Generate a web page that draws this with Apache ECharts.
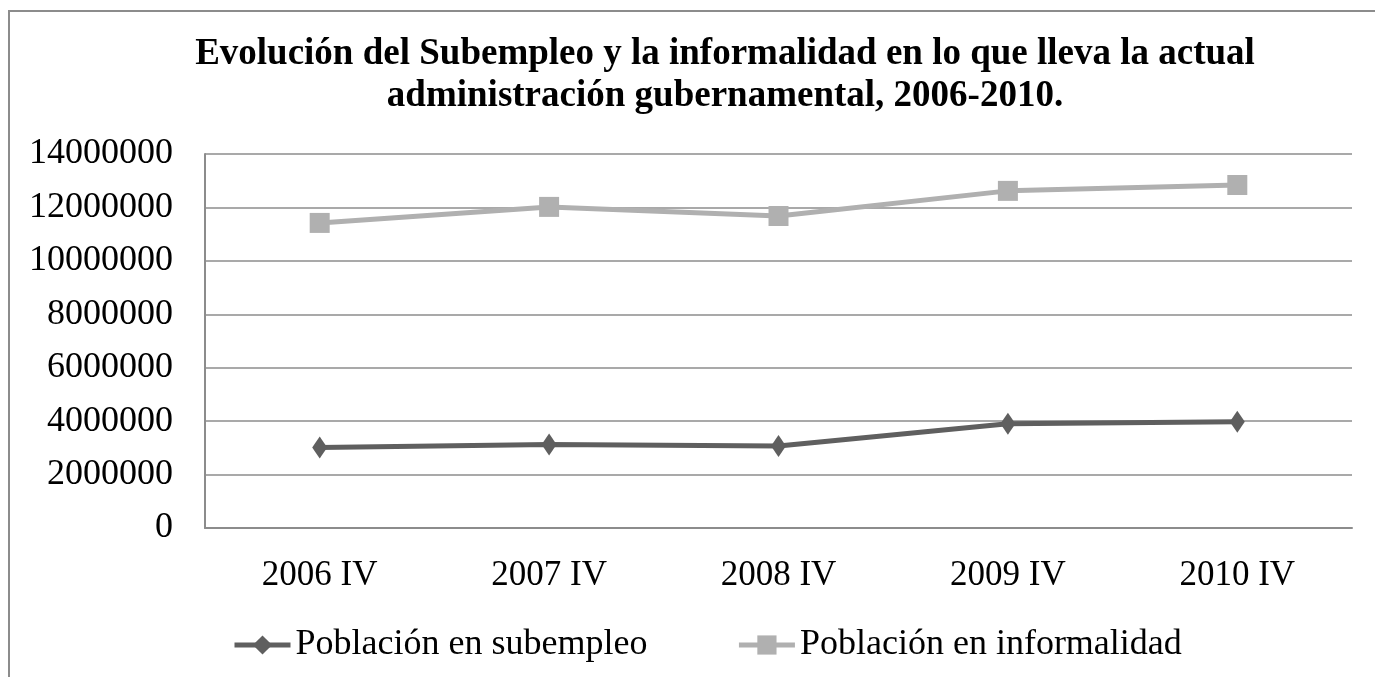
<!DOCTYPE html>
<html>
<head>
<meta charset="utf-8">
<script src="https://cdn.jsdelivr.net/npm/echarts@6/dist/echarts.min.js"></script>
<style>
html,body{margin:0;padding:0;background:#fff;}
#c{width:1375px;height:677px;}
</style>
</head>
<body>
<div id="c"></div>
<script>
var categories = ['2006 IV', '2007 IV', '2008 IV', '2009 IV', '2010 IV'];
var subempleo = [3010000, 3130000, 3070000, 3900000, 3980000];
var informalidad = [11420000, 12020000, 11680000, 12620000, 12840000];
var titleLines = ['Evolución del Subempleo y la informalidad en lo que lleva la actual', 'administración gubernamental, 2006-2010.'];
var seriesNames = ['Población en subempleo', 'Población en informalidad'];

var FONT = '"Liberation Serif", "Times New Roman", serif';
var chart = echarts.init(document.getElementById('c'));
chart.setOption({
  animation: false,
  backgroundColor: '#fff',
  graphic: [{
    type: 'rect',
    shape: {x: 9, y: 11, width: 1400, height: 700},
    style: {fill: 'none', stroke: '#8c8c8c', lineWidth: 2},
    silent: true
  }],
  title: {
    text: titleLines.join('\n'),
    left: 720,
    textAlign: 'center',
    top: 28,
    textStyle: {fontFamily: FONT, fontWeight: 'bold', fontSize: 37, color: '#000', lineHeight: 42}
  },
  legend: {
    bottom: 14,
    left: 232,
    padding: 0,
    itemWidth: 56,
    itemHeight: 24,
    itemGap: 89,
    lineStyle: {width: 5},
    textStyle: {fontFamily: FONT, fontSize: 36, color: '#000'},
    data: seriesNames
  },
  grid: {left: 205, right: 23, top: 154, bottom: 149, containLabel: false},
  xAxis: {
    type: 'category',
    data: categories,
    boundaryGap: true,
    axisLine: {lineStyle: {color: '#8c8c8c', width: 2}},
    axisTick: {show: false},
    axisLabel: {fontFamily: FONT, fontSize: 35, color: '#000', margin: 30}
  },
  yAxis: {
    type: 'value',
    min: 0,
    max: 14000000,
    interval: 2000000,
    axisLine: {show: true, lineStyle: {color: '#8c8c8c', width: 2}},
    axisTick: {show: false},
    splitLine: {lineStyle: {color: '#8c8c8c', width: 1.5}},
    axisLabel: {fontFamily: FONT, fontSize: 36, color: '#000', margin: 32,
      formatter: function (v) { return String(v); }}
  },
  series: [{
    name: seriesNames[0],
    type: 'line',
    data: subempleo,
    symbol: 'diamond',
    symbolSize: [15, 22],
    lineStyle: {color: '#5f5f5f', width: 5},
    itemStyle: {color: '#5f5f5f'}
  }, {
    name: seriesNames[1],
    type: 'line',
    data: informalidad,
    symbol: 'rect',
    symbolSize: 20,
    lineStyle: {color: '#b0b0b0', width: 5},
    itemStyle: {color: '#b0b0b0'}
  }]
});
</script>
</body>
</html>
